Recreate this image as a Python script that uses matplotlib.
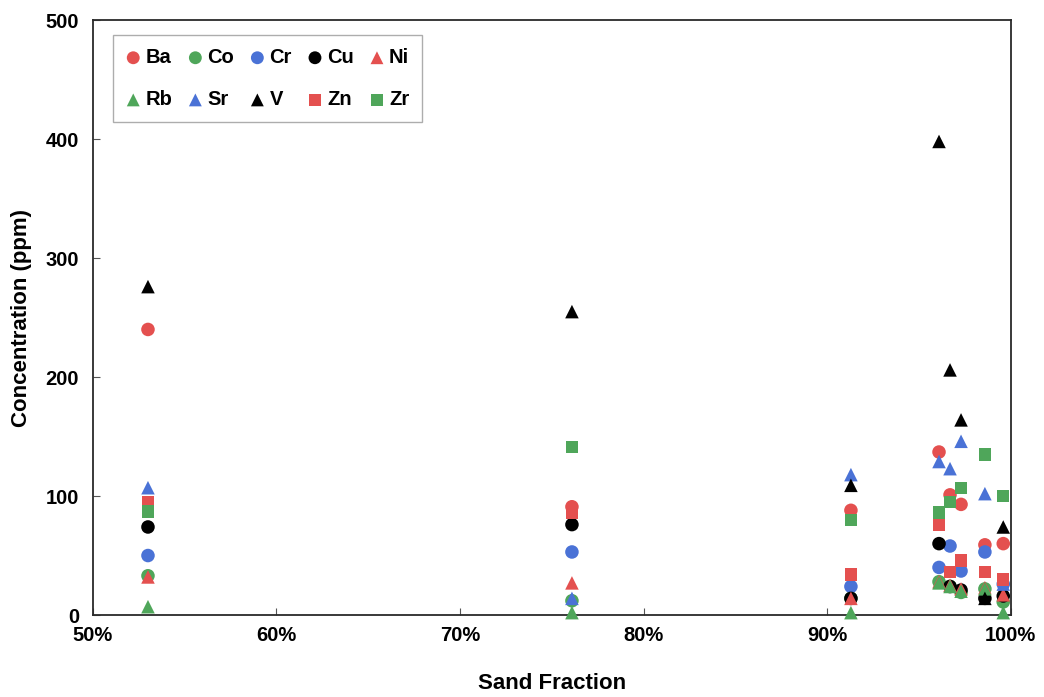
import matplotlib.pyplot as plt
from matplotlib.ticker import FuncFormatter

plt.rcParams['font.family'] = ['Liberation Sans', 'DejaVu Sans']
plt.rcParams['font.weight'] = 'bold'

# sand fraction of each sample
sand = [0.530, 0.761, 0.913, 0.961, 0.967, 0.973, 0.986, 0.996]

# concentrations (ppm), one value per sample
Ba = [240, 91, 88, 137, 101, 93, 59, 60]
Co = [33, 12, 14, 28, 24, 19, 22, 11]
Cr = [50, 53, 24, 40, 58, 37, 53, 26]
Cu = [74, 76, 14, 60, 24, 21, 14, 16]
Ni = [32, 27, 14, 28, 25, 22, 23, 17]
Rb = [7, 2, 2, 27, 24, 20, 22, 2]
Sr = [107, 14, 118, 129, 123, 146, 102, 26]
V = [276, 255, 109, 398, 206, 164, 14, 74]
Zn = [95, 86, 34, 76, 36, 46, 36, 30]
Zr = [87, 141, 80, 86, 95, 107, 135, 100]

red = '#E4504F'
green = '#4FA65A'
blue = '#4A72D6'
black = '#000000'

series = [
    ("Ba", Ba, 'o', red),
    ("Co", Co, 'o', green),
    ("Cr", Cr, 'o', blue),
    ("Cu", Cu, 'o', black),
    ("Ni", Ni, '^', red),
    ("Rb", Rb, '^', green),
    ("Sr", Sr, '^', blue),
    ("V", V, '^', black),
    ("Zn", Zn, 's', red),
    ("Zr", Zr, 's', green),
]

fig = plt.figure(figsize=(10.44, 6.97), dpi=100)
ax = fig.add_axes([0.089, 0.1176, 0.879, 0.8536])

handles = []
for name, vals, mk, col in series:
    size = 80 if mk == 's' else 95
    h = ax.scatter(sand, vals, marker=mk, s=size, color=col, edgecolors='none',
                   label=name, clip_on=False, zorder=3)
    handles.append(h)

ax.set_xlim(0.5, 1.0)
ax.set_ylim(0, 500)
ax.set_xticks([0.5, 0.6, 0.7, 0.8, 0.9, 1.0])
ax.set_yticks([0, 100, 200, 300, 400, 500])
ax.xaxis.set_major_formatter(FuncFormatter(lambda v, p: f"{v*100:.0f}%"))
ax.tick_params(direction='in', length=5, width=0.8, labelsize=14.5, color='#555555')
ax.tick_params(axis='x', pad=8)
ax.tick_params(axis='y', pad=10)
for lab in ax.get_xticklabels() + ax.get_yticklabels():
    lab.set_fontweight('bold')

for sp in ax.spines.values():
    sp.set_linewidth(1.3)
    sp.set_color('#2a2a2a')

ax.set_xlabel("Sand Fraction", fontsize=16, fontweight='bold', labelpad=20)
ax.set_ylabel("Concentration (ppm)", fontsize=16, fontweight='bold', labelpad=10)

# legend fills column by column, so interleave the two rows
order = [0, 5, 1, 6, 2, 7, 3, 8, 4, 9]
leg = ax.legend([handles[i] for i in order], [series[i][0] for i in order],
                loc='upper left', ncol=5, fontsize=14.5, frameon=True, fancybox=False,
                edgecolor='#999999', handletextpad=0.25, columnspacing=0.8,
                handlelength=0.7, borderpad=0.65, labelspacing=1.15, markerscale=0.95,
                bbox_to_anchor=(0.022, 0.975), borderaxespad=0)
leg.get_frame().set_linewidth(1.0)
for t in leg.get_texts():
    t.set_fontweight('bold')

fig.savefig("out.png", dpi=100)
